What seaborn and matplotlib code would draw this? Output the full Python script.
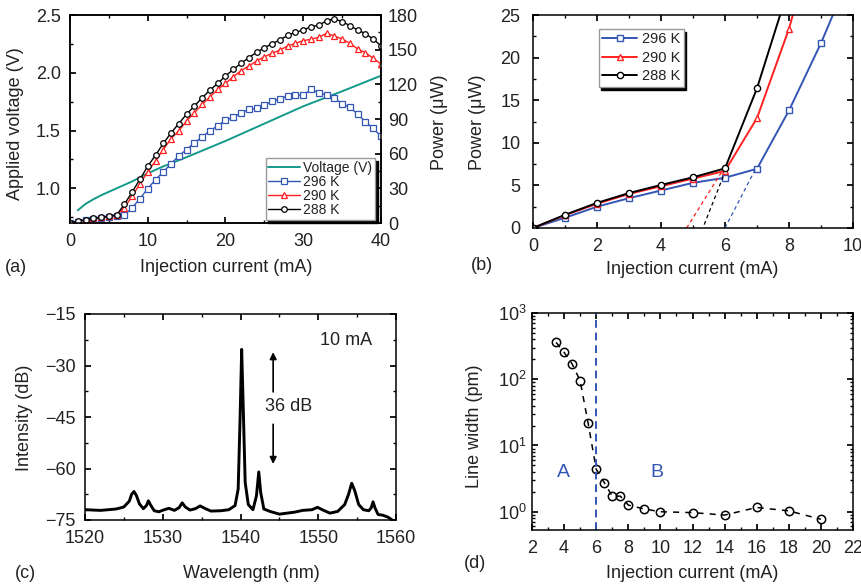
import pandas as pd
import matplotlib.pyplot as plt
import seaborn as sns
from matplotlib.ticker import MultipleLocator, LogLocator, NullFormatter

# ---- panel (a): L-I-V curves ----
current_a = list(range(0, 41))
p296_a = [0, 1.2, 2.5, 3.5, 4.4, 5.3, 5.9, 6.6, 13.3, 21.1, 29.8, 37.6, 44.2, 51.4, 58.1,
          63.6, 69.4, 74.6, 79.8, 84.1, 89.0, 91.3, 95.4, 98.3, 99.1, 101.7, 105.5, 107.2,
          110.1, 110.7, 110.7, 115.6, 112.7, 110.7, 108.4, 102.9, 100.0, 94.2, 87.6, 81.8, 75.1]
p290_a = [0, 1.4, 2.8, 3.9, 4.9, 5.8, 6.7, 13.3, 23.1, 34.1, 44.2, 53.8, 63.6, 73.1, 79.8,
          88.4, 95.4, 102.6, 109.2, 115.6, 120.8, 126.6, 131.8, 135.8, 140.2, 143.9, 146.8,
          149.7, 153.2, 155.5, 157.8, 159.0, 160.7, 164.2, 161.8, 159.2, 155.5, 150.6, 147.4,
          142.5, 137.6]
p288_a = [0, 1.5, 2.9, 4.1, 5.0, 6.0, 7.0, 16.2, 26.9, 37.9, 49.1, 58.7, 68.8, 78.0, 86.1,
          94.2, 101.2, 108.4, 115.0, 120.8, 127.2, 132.9, 138.2, 143.1, 147.7, 151.7, 155.2,
          158.4, 162.4, 165.0, 167.0, 169.9, 171.1, 175.1, 176.6, 174.3, 170.8, 167.0, 163.9,
          159.0, 153.5]
volt_current = [1, 2, 3, 4, 5, 6, 7, 8, 10, 12, 15, 20, 25, 30, 35, 40]
voltage = [0.81, 0.865, 0.905, 0.94, 0.97, 1.0, 1.03, 1.06, 1.13, 1.19, 1.27, 1.41, 1.56,
           1.71, 1.84, 1.975]

# ---- panel (b): low-current zoom ----
current_b = [0, 1, 2, 3, 4, 5, 6, 7, 8, 9, 10]
p296_b = [0, 1.2, 2.5, 3.5, 4.4, 5.3, 5.9, 6.95, 13.8, 21.7, 30.6]
p290_b = [0, 1.5, 2.85, 4.0, 4.9, 5.8, 6.7, 12.9, 23.4, 36.7]
p288_b = [0, 1.55, 2.95, 4.1, 5.05, 5.95, 7.0, 16.4, 28.3]
# threshold fit lines (start, end)
fit_x = {"296 K": [6.0, 6.95], "290 K": [4.8, 5.9], "288 K": [5.35, 5.97]}
fit_y = {"296 K": [0.0, 6.9], "290 K": [0.0, 6.6], "288 K": [0.4, 6.3]}

# ---- panel (c): optical spectrum at 10 mA ----
wavelength = [1520, 1522, 1524, 1525, 1525.7, 1526.0, 1526.3, 1526.6, 1527.0, 1527.5, 1527.9,
              1528.15, 1528.4, 1528.9, 1529.5, 1530.2, 1530.8, 1531.5, 1532.1, 1532.5, 1532.9,
              1533.5, 1534.2, 1534.8, 1535.4, 1536.2, 1537.5, 1538.5, 1539.3, 1539.7, 1539.95,
              1540.15, 1540.35, 1540.6, 1541.0, 1541.6, 1542.05, 1542.35, 1542.6, 1543.0, 1543.8,
              1545, 1546, 1547, 1548, 1549.2, 1549.9, 1550.6, 1551.5, 1552.5, 1553.4, 1553.9,
              1554.3, 1554.7, 1555.2, 1555.8, 1556.5, 1556.8, 1557.05, 1557.3, 1557.7, 1558.3,
              1559.0, 1559.5, 1560]
intensity = [-72.0, -72.2, -71.8, -71.2, -69.5, -67.5, -66.7, -67.8, -70.3, -71.7, -70.8,
             -69.4, -70.5, -72.3, -72.6, -72.0, -71.6, -72.2, -71.4, -70.0, -71.2,
             -72.1, -71.7, -70.9, -71.6, -72.4, -72.3, -72.0, -70.8, -66.0, -45.0,
             -25.3, -42.0, -64.0, -70.5, -72.0, -68.0, -61.0, -67.0, -71.8, -72.5,
             -73.3, -73.0, -72.7, -72.2, -72.0, -71.3, -72.1, -73.0, -72.5, -70.5, -67.5,
             -64.3, -66.5, -70.5, -72.0, -72.3, -71.5, -69.7, -71.5, -73.4, -73.6,
             -74.2, -75.0, -75.8]

# ---- panel (d): line width vs current ----
current_d = [3.5, 4, 4.5, 5, 5.5, 6, 6.5, 7, 7.5, 8, 9, 10, 12, 14, 16, 18, 20]
linewidth_pm = [360, 255, 170, 95, 21.5, 4.4, 2.75, 1.72, 1.72, 1.26, 1.1, 1.0, 0.97, 0.89,
                1.16, 1.03, 0.77]

BLUE = "#3356b4"
RED = "#ff2020"
TEAL = "#139a8a"
TXT = "#222222"
FS = 13

sns.set_theme(style="ticks")
plt.rcParams["font.family"] = ["Liberation Sans", "DejaVu Sans"]
plt.rcParams.update({
    "text.color": TXT, "axes.labelcolor": TXT, "xtick.color": "black", "ytick.color": "black",
    "xtick.labelcolor": TXT, "ytick.labelcolor": TXT, "axes.edgecolor": "black",
    "axes.linewidth": 1.1, "xtick.direction": "in", "ytick.direction": "in",
    "xtick.major.size": 4, "ytick.major.size": 4, "xtick.minor.size": 2.5,
    "ytick.minor.size": 2.5, "xtick.labelsize": FS, "ytick.labelsize": FS,
    "xtick.major.pad": 7.5, "ytick.major.pad": 6.5, "axes.labelsize": FS,
})

W, H = 862, 584
fig = plt.figure(figsize=(W / 100, H / 100), dpi=100)


def box(l, t, r, b):
    return [l / W, 1 - b / H, (r - l) / W, (b - t) / H]


def fig_text(x, y, s, **kw):
    fig.text(x / W, 1 - y / H, s, ha="center", va="center", fontsize=FS, **kw)


def style_ticks(ax):
    ax.tick_params(which="both", top=True, right=True, left=True, bottom=True)


axa = fig.add_axes(box(70, 15, 381, 223))
axb = fig.add_axes(box(533, 15, 853, 228))
axc = fig.add_axes(box(85, 314, 396, 520))
axd = fig.add_axes(box(532, 313, 853, 530))

# ---------- (a) ----------
axa2 = axa.twinx()
sns.lineplot(x=volt_current, y=voltage, ax=axa, color=TEAL, lw=1.4, label="Voltage (V)")
mk = dict(markersize=4.0, markerfacecolor="white", markeredgewidth=0.9, lw=1.0)
series_a = [("296 K", p296_a, BLUE, "s"), ("290 K", p290_a, RED, "^"), ("288 K", p288_a, "black", "o")]
for name, vals, col, m in series_a:
    sns.lineplot(x=current_a, y=vals, ax=axa2, color=col, marker=m, markeredgecolor=col,
                 label=name, **mk)
axa.set_xlim(0, 40)
axa.set_ylim(0.7, 2.5)
axa2.set_ylim(0, 180)
axa.xaxis.set_major_locator(MultipleLocator(10))
axa.xaxis.set_minor_locator(MultipleLocator(5))
axa.yaxis.set_major_locator(MultipleLocator(0.5))
axa.yaxis.set_minor_locator(MultipleLocator(0.25))
axa2.yaxis.set_major_locator(MultipleLocator(30))
axa2.yaxis.set_minor_locator(MultipleLocator(15))
axa.tick_params(which="both", top=True, right=False)
axa2.tick_params(which="both", right=True, left=False, pad=5)
axa.set_xlabel("")
axa.set_ylabel("")
axa2.set_ylabel("")
h1, l1 = axa.get_legend_handles_labels()
h2, l2 = axa2.get_legend_handles_labels()
if axa.get_legend():
    axa.get_legend().remove()
axa2.legend(h1 + h2, l1 + l2, loc="lower right", bbox_to_anchor=(0.98, 0.015),
            borderaxespad=0, fontsize=10, labelspacing=0.0, handlelength=2.3,
            handletextpad=0.2, borderpad=0.2, fancybox=False, framealpha=1,
            edgecolor="#999999", shadow={"color": "black", "alpha": 1})
fig_text(16, 124, "Applied voltage (V)", rotation=90)
fig_text(440, 122, "Power (\u03bcW)", rotation=90)
fig_text(226, 267, "Injection current (mA)")
fig_text(16, 267, "(a)")

# ---------- (b) ----------
series_b = [("296 K", p296_b, BLUE, "s"), ("290 K", p290_b, RED, "^"), ("288 K", p288_b, "black", "o")]
for name, vals, col, m in series_b:
    sns.lineplot(x=current_b[:len(vals)], y=vals, ax=axb, color=col, marker=m,
                 markeredgecolor=col, markersize=4.5, markerfacecolor="white",
                 markeredgewidth=1.0, lw=1.4, label=name)
    axb.plot(fit_x[name], fit_y[name], color=col, lw=0.9, ls=(0, (3, 2.5)))
axb.set_xlim(0, 10)
axb.set_ylim(0, 25)
axb.xaxis.set_major_locator(MultipleLocator(2))
axb.xaxis.set_minor_locator(MultipleLocator(1))
axb.yaxis.set_major_locator(MultipleLocator(5))
axb.yaxis.set_minor_locator(MultipleLocator(2.5))
style_ticks(axb)
axb.tick_params(axis="y", pad=9)
axb.set_xlabel("")
axb.set_ylabel("")
axb.legend(loc="upper left", bbox_to_anchor=(0.205, 0.935), borderaxespad=0, fontsize=10.5,
           labelspacing=0.3, handlelength=2.4, handletextpad=0.3, borderpad=0.25,
           fancybox=False, framealpha=1, edgecolor="#999999",
           shadow={"color": "black", "alpha": 1})
fig_text(478, 122, "Power (\u03bcW)", rotation=90)
fig_text(692, 270, "Injection current (mA)")
fig_text(482, 266, "(b)")

# ---------- (c) ----------
sns.lineplot(x=wavelength, y=intensity, ax=axc, color="black", lw=2.1, sort=False,
             estimator=None)
axc.set_xlim(1520, 1560)
axc.set_ylim(-75, -15)
axc.xaxis.set_major_locator(MultipleLocator(10))
axc.xaxis.set_minor_locator(MultipleLocator(5))
axc.yaxis.set_major_locator(MultipleLocator(15))
axc.yaxis.set_minor_locator(MultipleLocator(7.5))
axc.yaxis.set_major_formatter(plt.FuncFormatter(lambda v, p: f"{v:.0f}".replace("-", "\u2212")))
style_ticks(axc)
axc.set_xlabel("")
axc.set_ylabel("")
arrow = dict(arrowstyle="-|>", color="black", lw=1.2, mutation_scale=10)
axc.annotate("", xy=(1544.2, -25.3), xytext=(1544.2, -38.5), arrowprops=arrow)
axc.annotate("", xy=(1544.2, -59.5), xytext=(1544.2, -46.3), arrowprops=arrow)
axc.text(1546.2, -42, "36 dB", ha="center", va="center", fontsize=FS)
axc.text(1553.6, -22.6, "10 mA", ha="center", va="center", fontsize=FS)
fig_text(25, 418, "Intensity (dB)", rotation=90)
fig_text(251, 574, "Wavelength (nm)")
fig_text(25, 574, "(c)")

# ---------- (d) ----------
sns.lineplot(x=current_d, y=linewidth_pm, ax=axd, color="black", lw=1.1, marker="o",
             markersize=6, markerfacecolor="none", markeredgecolor="black",
             markeredgewidth=1.1, linestyle=(0, (4, 4)))
axd.axvline(6, color=BLUE, lw=1.4, ls=(0, (4, 2.5)))
axd.set_yscale("log")
axd.set_xlim(2, 22)
axd.set_ylim(0.53, 1000)
axd.xaxis.set_major_locator(MultipleLocator(2))
axd.xaxis.set_minor_locator(MultipleLocator(1))
axd.yaxis.set_major_locator(LogLocator(base=10, numticks=10))
axd.yaxis.set_minor_locator(LogLocator(base=10, subs=range(2, 10), numticks=20))
axd.yaxis.set_minor_formatter(NullFormatter())
style_ticks(axd)
axd.tick_params(axis="y", pad=4)
axd.set_xlabel("")
axd.set_ylabel("")
axd.text(3.94, 3.9, "A", color=BLUE, ha="center", va="center", fontsize=14)
axd.text(9.76, 3.9, "B", color=BLUE, ha="center", va="center", fontsize=14)
fig_text(475, 426, "Line width (pm)", rotation=90)
fig_text(692, 573, "Injection current (mA)")
fig_text(475, 563, "(d)")

fig.savefig("out.png", dpi=100)
